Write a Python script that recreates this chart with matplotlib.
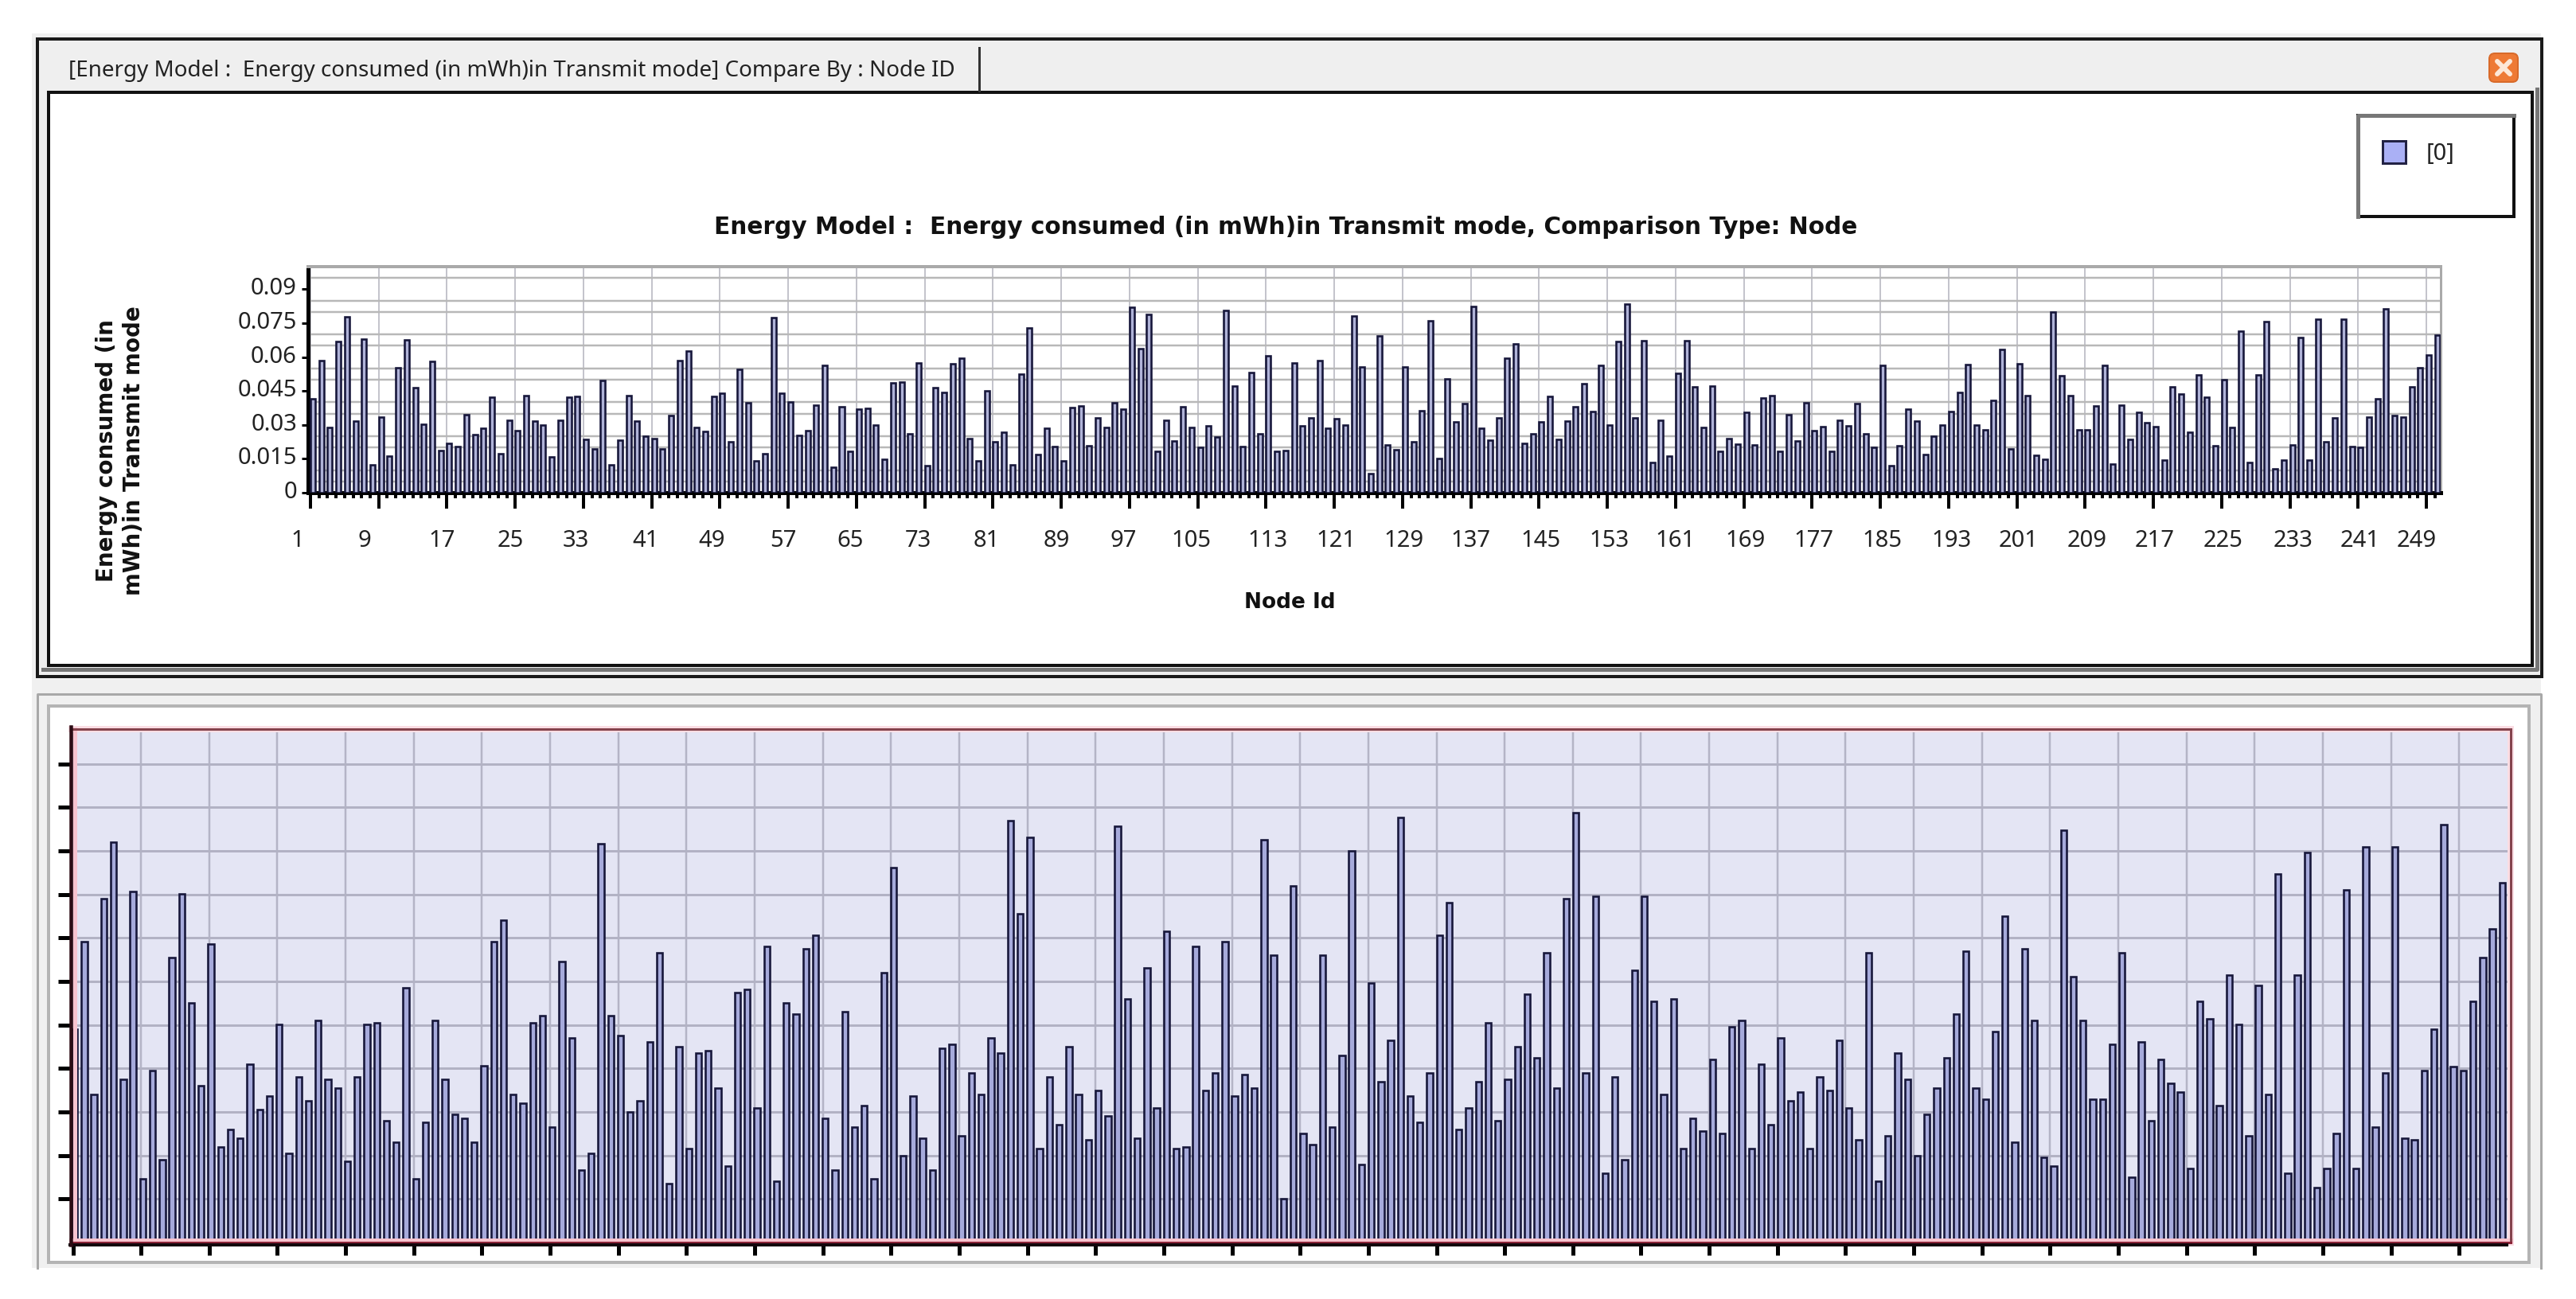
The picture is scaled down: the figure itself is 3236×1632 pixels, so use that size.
import numpy as np
import matplotlib
matplotlib.use("Agg")
import matplotlib.pyplot as plt
from matplotlib.patches import Rectangle, FancyBboxPatch
from matplotlib.transforms import ScaledTranslation

W, H = 3236, 1632
DPI = 100
PX = 72 / DPI

node_ids = list(range(1, 251))
energy_milli = [
    41.5, 58.4, 28.8, 66.8, 77.8, 31.7, 68.1, 12.4, 33.4, 16.1,
    55.4, 67.7, 46.6, 30.4, 58.0, 18.6, 22.0, 20.3, 34.6, 25.8,
    28.4, 42.3, 17.3, 32.2, 27.5, 43.1, 31.7, 30.0, 15.7, 32.2,
    42.3, 42.7, 23.7, 19.5, 49.5, 12.4, 23.3, 43.1, 31.7, 24.9,
    24.1, 19.5, 34.3, 58.4, 62.6, 28.7, 27.1, 42.7, 44.0, 22.4,
    54.6, 39.7, 14.0, 17.3, 77.4, 44.0, 40.2, 25.4, 27.5, 38.9,
    56.3, 11.4, 38.0, 18.2, 36.8, 37.3, 30.0, 14.8, 48.6, 49.1,
    26.2, 57.5, 11.9, 46.6, 44.4, 57.1, 59.6, 24.1, 14.0, 44.9,
    22.4, 26.6, 12.4, 52.4, 72.8, 16.9, 28.4, 20.3, 14.0, 37.7,
    38.5, 20.7, 33.0, 28.8, 39.7, 36.8, 82.0, 63.9, 78.7, 18.2,
    32.2, 22.8, 38.1, 28.8, 19.9, 29.6, 24.5, 80.8, 47.3, 20.3,
    53.3, 26.2, 60.4, 18.2, 18.6, 57.5, 29.6, 33.0, 58.4, 28.4,
    32.6, 30.0, 78.2, 55.8, 8.5, 69.3, 21.1, 19.0, 55.8, 22.4,
    36.4, 76.1, 15.2, 50.4, 31.3, 39.3, 82.5, 28.4, 23.3, 33.0,
    59.6, 66.0, 22.0, 26.2, 31.3, 42.7, 23.7, 31.7, 38.1, 48.2,
    35.9, 56.3, 30.0, 66.8, 83.4, 33.0, 67.2, 13.5, 32.2, 16.1,
    52.9, 67.2, 46.9, 28.8, 47.3, 18.2, 24.1, 21.6, 35.5, 21.1,
    41.9, 43.1, 18.2, 34.6, 22.8, 39.7, 27.5, 29.2, 18.2, 32.2,
    29.6, 39.3, 26.2, 19.9, 56.3, 11.9, 20.7, 36.8, 31.7, 16.9,
    24.9, 30.0, 35.9, 44.4, 56.6, 30.0, 27.9, 41.0, 63.4, 19.5,
    57.1, 43.1, 16.5, 14.8, 80.0, 51.6, 43.1, 27.9, 27.9, 38.5,
    56.3, 12.7, 38.9, 23.7, 35.5, 30.9, 29.2, 14.4, 46.9, 43.5,
    26.6, 52.0, 42.3, 20.7, 49.9, 28.8, 71.5, 13.5, 52.0, 75.7,
    10.6, 14.4, 21.1, 68.5, 14.4, 76.9, 22.4, 33.0, 76.9, 20.3,
    19.9, 33.4, 41.5, 81.2, 34.2, 33.4, 46.9, 55.4, 60.9, 69.8,
]
energy = [v / 1000 for v in energy_milli]

top_ytick_values = [0, 0.015, 0.03, 0.045, 0.06, 0.075, 0.09]
top_ytick_labels = ["0", "0.015", "0.03", "0.045", "0.06", "0.075", "0.09"]
top_xtick_labels = list(range(1, 250, 8))
# horizontal nudge of each x label relative to its tick, in pixels
top_xlabel_nudge = [-16, -18, -6, -6, -10, -8, -10, -6, -8, -8, -8, -6, -8, -8, 2, 2,
                    2, 0, 2, 2, 0, 2, 2, 2, 4, 2, 2, 2, 2, 4, 2, -12]

tab_text = "[Energy Model :  Energy consumed (in mWh)in Transmit mode] Compare By : Node ID"
title_text = "Energy Model :  Energy consumed (in mWh)in Transmit mode, Comparison Type: Node"
ylabel_text = "Energy consumed (in\nmWh)in Transmit mode"
xlabel_text = "Node Id"
legend_text = "[0]"

plt.rcParams["font.family"] = ["Noto Sans", "DejaVu Sans"]
fig = plt.figure(figsize=(W / DPI, H / DPI), dpi=DPI, facecolor="white")


def axes_px(l, t, r, b, **kw):
    return fig.add_axes([l / W, 1 - b / H, (r - l) / W, (b - t) / H], **kw)


# ---------- window chrome, in pixel coordinates ----------
bg = fig.add_axes([0, 0, 1, 1], zorder=0)
bg.set_xlim(0, W)
bg.set_ylim(H, 0)
bg.axis("off")


def rect(l, t, r, b, fc="none", ec="none", lw=0, **kw):
    bg.add_patch(Rectangle((l, t), r - l, b - t, facecolor=fc, edgecolor=ec, linewidth=lw * PX, **kw))


rect(40, 42, 3192, 1593, fc="#f0f0f0")
# upper window
rect(47, 49, 3193, 850, fc="#efefef", ec="#1a1a1a", lw=4)
bg.plot([54, 3187, 3187], [841, 841, 112], color="#777777", lw=5 * PX)
rect(61, 116, 3181, 836, fc="white", ec="#111111", lw=4)
bg.plot([1230, 1230], [60, 114], color="#333333", lw=3 * PX)
bg.text(86, 89, tab_text, fontsize=20, va="center", ha="left", color="#222222")

bg.add_patch(FancyBboxPatch((3131, 71), 28, 28, boxstyle="round,pad=4,rounding_size=7",
                            facecolor="#ee7a35", edgecolor="#d86a2a", linewidth=2 * PX))
bg.plot([3137, 3153], [77, 93], color="#fde8d8", lw=6 * PX, solid_capstyle="round")
bg.plot([3137, 3153], [93, 77], color="#fde8d8", lw=6 * PX, solid_capstyle="round")

# legend box
rect(2962, 145, 3158, 272, fc="white", ec="#111111", lw=4)
bg.plot([2962, 2962, 3158], [272, 145, 145], color="#777777", lw=5 * PX)
rect(2993, 177, 3022, 205, fc="#aab0f5", ec="#222244", lw=3)
bg.text(3048, 194, legend_text, fontsize=21, va="center", ha="left", color="#222222")

# lower window frame
bg.plot([47, 47, 3192, 3192], [1593, 872, 872, 1593], color="#a8a8a8", lw=3 * PX)
rect(61, 887, 3177, 1586, fc="white", ec="#b4b4b4", lw=4)

bg.text(1615, 285, title_text, fontsize=21.3, fontweight="bold", va="center", ha="center",
        family="DejaVu Sans", color="#111111")
bg.text(151, 566, ylabel_text, fontsize=20, fontweight="bold", va="center", ha="center", rotation=90,
        family="DejaVu Sans", color="#111111", linespacing=1.25)
bg.text(1620, 757, xlabel_text, fontsize=19, fontweight="bold", va="center", ha="center",
        family="DejaVu Sans", color="#111111")

# ---------- upper chart ----------
ax1 = axes_px(387, 335, 3066, 619, zorder=2)
ax1.patch.set_alpha(0)
ax1.bar(node_ids, energy, width=0.56, color="#b0b3d8", edgecolor="#16163a", linewidth=2.6 * PX, zorder=3)
ax1.set_xlim(0.44, 250.4)
ax1.set_ylim(0, 0.1)
ax1.set_axisbelow(True)

xpos1 = [n - 0.28 for n in top_xtick_labels]
ax1.set_xticks(xpos1)
ax1.set_xticklabels([str(n) for n in top_xtick_labels], fontsize=21, color="#222222")
ax1.set_xticks([n - 0.28 for n in node_ids], minor=True)
ax1.set_yticks(top_ytick_values)
ax1.set_yticklabels(top_ytick_labels, fontsize=21, color="#222222")
ax1.set_yticks(np.arange(0, 0.1001, 0.005), minor=True)

ax1.grid(True, which="major", axis="x", color="#c4c4cc", lw=2 * PX)
ax1.grid(True, which="minor", axis="y", color="#b8b8b8", lw=2.5 * PX)
ax1.tick_params(axis="x", which="major", length=20 * PX, width=4 * PX, color="black", pad=26 * PX)
ax1.tick_params(axis="x", which="minor", length=7 * PX, width=4 * PX, color="black")
ax1.tick_params(axis="y", which="major", length=8 * PX, width=3 * PX, color="black", pad=6 * PX)
ax1.tick_params(axis="y", which="minor", length=0)
for lab, nudge in zip(ax1.get_xticklabels(), top_xlabel_nudge):
    lab.set_transform(lab.get_transform() + ScaledTranslation(nudge / DPI, 0, fig.dpi_scale_trans))
for lab in ax1.get_yticklabels():
    lab.set_transform(lab.get_transform() + ScaledTranslation(0, 4 / DPI, fig.dpi_scale_trans))
for side, col, lw in [("left", "black", 5), ("bottom", "black", 5), ("top", "#aaaaaa", 4), ("right", "#aaaaaa", 3)]:
    ax1.spines[side].set_color(col)
    ax1.spines[side].set_linewidth(lw * PX)

# ---------- lower chart (magnified copy of the same bars) ----------
grid_step = 0.00845
ax2 = axes_px(90, 916, 3154, 1561, zorder=2)
ax2.set_facecolor("#e4e5f4")
ax2.bar(node_ids, energy, width=0.6, color="#a6aadb", edgecolor="#16163a", linewidth=2.6 * PX, zorder=3)
ax2.set_xlim(0.706, 250.87)
ax2.set_ylim(0, 0.0997)
ax2.set_axisbelow(True)
xpos2 = 0.83 + 6.993 * np.arange(36)
ax2.set_xticks(xpos2)
ax2.set_xticklabels([])
ax2.set_yticks(grid_step * np.arange(1, 12))
ax2.set_yticklabels([])
ax2.grid(True, axis="x", color="#b4b4c6", lw=2.5 * PX)
ax2.grid(True, axis="y", color="#b2b2c4", lw=3 * PX)
ax2.tick_params(axis="x", length=16 * PX, width=5 * PX, color="black", pad=2)
ax2.tick_params(axis="y", length=17 * PX, width=5 * PX, color="black", pad=2)
for side in ax2.spines:
    ax2.spines[side].set_visible(False)
axis_tr = ax2.transAxes
for xs, ys in [([0, 1], [1, 1]), ([1, 1], [0, 1])]:
    ax2.plot(xs, ys, transform=axis_tr, color="#fbdde3", lw=8 * PX, clip_on=False, zorder=4)
    ax2.plot(xs, ys, transform=axis_tr, color="#84434d", lw=3 * PX, clip_on=False, zorder=5)
ax2.plot([0, 1], [0.003, 0.003], transform=axis_tr, color="#f9c4cf", lw=6 * PX, clip_on=False, zorder=4)
ax2.plot([0, 1], [0, 0], transform=axis_tr, color="#8a2438", lw=3 * PX, clip_on=False, zorder=5)
ax2.plot([-0.0005, 0.9985], [-0.004, -0.004], transform=axis_tr, color="#12060c", lw=4 * PX, clip_on=False, zorder=5)
ax2.plot([0.0012, 0.0012], [0, 1], transform=axis_tr, color="#f8c4cf", lw=5 * PX, clip_on=False, zorder=4)
ax2.plot([-0.0003, -0.0003], [-0.004, 1.005], transform=axis_tr, color="#2c0c14", lw=4.5 * PX, clip_on=False, zorder=6)

fig.savefig("out.png", dpi=DPI, facecolor="white")
